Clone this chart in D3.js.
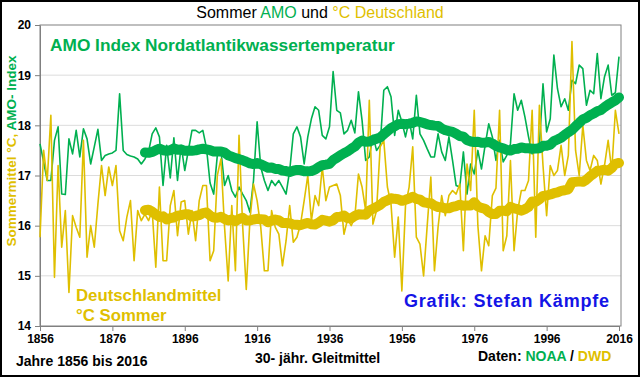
<!DOCTYPE html>
<html>
<head>
<meta charset="utf-8">
<script src="https://cdn.jsdelivr.net/npm/d3@7"></script>
<style>
  body { margin: 0; background: #fff; }
  svg { display: block; font-family: "Liberation Sans", Arial, sans-serif; }
</style>
</head>
<body>
<svg id="chart" width="640" height="377"></svg>
<script>
// Jahre 1856 - 2016, Sommerwerte
const firstYear = 1856;

// AMO Index (auf die °C-Achse skaliert)
const amo = [
  17.63, 17.27, 16.9, 16.9, 17.7, 17.97, 16.63, 16.62, 17.73, 17.43,
  17.9, 17.37, 17.93, 17.73, 17.23, 17.57, 17.92, 17.3, 17.4, 17.43,
  17.45, 17.5, 18.63, 17.5, 17.42, 17.39, 17.37, 17.33, 17.23, 17.33,
  17.47, 17.83, 17.95, 17.77, 16.8, 17.6, 16.95, 17.75, 16.9, 17.6,
  17.1, 17.5, 17.9, 17.9, 17.85, 17.9, 17.55, 16.85, 16.63, 17.4,
  17.5, 16.8, 17.0, 16.7, 16.57, 16.77, 16.63, 16.5, 16.27, 16.9,
  18.07, 17.17, 16.9, 16.7, 16.9, 16.8, 16.9, 16.77, 16.63, 17.1,
  17.83, 17.97, 17.77, 17.23, 17.77, 18.13, 18.37, 18.3, 17.8, 17.73,
  17.97, 19.07, 18.3, 18.25, 17.83, 17.9, 18.1, 17.85, 18.67, 18.1,
  17.3, 17.37, 17.8, 17.5, 17.6, 18.7, 18.77, 18.57, 17.8, 18.3,
  18.07, 17.77, 18.1, 17.73, 18.6, 17.83, 17.7, 17.53, 17.37, 17.37,
  17.83, 17.47, 17.3, 17.77, 17.3, 16.8, 16.77, 17.47, 16.63, 17.23,
  17.03, 17.5, 17.13, 17.6, 18.03, 17.77, 17.3, 17.7, 17.27, 17.4,
  17.63, 18.63, 18.3, 18.5, 18.17, 17.77, 17.43, 17.6, 17.6, 18.83,
  17.87, 18.13, 19.4, 18.73, 18.37, 18.53, 18.3, 18.9, 18.83, 19.2,
  19.13, 18.4, 18.7, 18.63, 19.43, 18.53, 18.97, 19.2, 18.6, 18.65, 19.37
];

// Deutschlandmittel Sommer (°C)
const dwd = [
  15.77, 17.5, 16.9, 18.2, 14.97, 17.2, 15.57, 16.3, 14.67, 16.2,
  15.97, 15.77, 17.7, 15.37, 16.0, 15.57, 16.43, 17.2, 16.6, 17.17,
  16.8, 17.2, 15.9, 15.7, 16.17, 16.5, 15.3, 16.3, 16.1, 16.23,
  16.1, 16.3, 15.17, 16.77, 15.3, 15.3, 16.4, 16.7, 15.8, 16.47,
  16.5, 15.83, 16.3, 15.7, 16.5, 16.8, 16.8, 15.3, 15.5, 17.0,
  17.33, 15.97, 14.9, 16.4, 15.1, 17.8, 16.0, 14.73, 16.1, 16.83,
  16.5, 15.97, 15.1, 15.1, 16.3, 15.97, 15.83, 15.2, 15.7, 16.4,
  15.67, 15.77, 16.03, 16.5, 17.0, 16.1, 16.6, 16.4, 17.17, 16.5,
  16.77, 16.8, 16.83, 16.6, 15.83, 16.13, 16.0, 16.17, 17.03, 16.77,
  16.3, 18.5, 16.03, 16.3, 17.57, 17.7, 16.77, 16.43, 15.37, 16.17,
  14.7, 16.4, 16.77, 17.57, 15.77, 15.63, 15.0, 16.0, 16.97, 15.1,
  15.97, 16.6, 16.2, 16.6, 16.7, 16.63, 16.83, 15.5, 17.23, 16.7,
  18.3, 16.0, 15.1, 15.8, 15.6, 16.6, 16.75, 18.3, 15.5, 15.8,
  17.3, 15.5, 16.3, 16.7, 16.7, 16.9, 18.3, 15.77, 18.4, 17.2,
  16.2, 17.2, 17.0, 17.1, 17.6, 17.0, 17.4, 19.67, 17.5, 17.0,
  18.0, 17.3, 17.1, 17.4, 17.3, 16.83, 17.2, 17.7, 17.1, 18.3, 17.83
];

const xTicks = [1856, 1876, 1896, 1916, 1936, 1956, 1976, 1996, 2016];
const yTicks = [14, 15, 16, 17, 18, 19, 20];
const maWindow = 30; // 30- jähr. Gleitmittel

const green = '#00b050';
const yellow = '#dfbf00';

const svg = d3.select('#chart');
const margin = { top: 25, right: 19, bottom: 51, left: 40 };
const width = 640, height = 377;
const innerW = width - margin.left - margin.right;
const innerH = height - margin.top - margin.bottom;

const years = d3.range(firstYear, firstYear + amo.length);

const x = d3.scaleLinear().domain([1856, 2016]).range([margin.left, margin.left + 579]);
const y = d3.scaleLinear().domain([14, 20]).range([margin.top + innerH, margin.top]);

// Rahmen außen
svg.append('rect')
  .attr('x', 1).attr('y', 1).attr('width', width - 2).attr('height', height - 2)
  .attr('fill', '#fff').attr('stroke', '#000').attr('stroke-width', 2);

// Gitterlinien
svg.append('g')
  .selectAll('line')
  .data(yTicks.slice(1, -1))
  .join('line')
  .attr('x1', margin.left).attr('x2', margin.left + innerW)
  .attr('y1', d => y(d)).attr('y2', d => y(d))
  .attr('stroke', '#dcdcdc').attr('stroke-width', 1);

// Plotrahmen
svg.append('rect')
  .attr('x', margin.left).attr('y', margin.top)
  .attr('width', innerW).attr('height', innerH)
  .attr('fill', 'none').attr('stroke', '#808080').attr('stroke-width', 1);

// Achsen
const yAxis = svg.append('g')
  .attr('transform', `translate(${margin.left},0)`)
  .call(d3.axisLeft(y).tickValues(yTicks).tickFormat(d3.format('d'))
    .tickSize(5).tickPadding(4).tickSizeOuter(0));
const xAxis = svg.append('g')
  .attr('transform', `translate(0,${margin.top + innerH})`)
  .call(d3.axisBottom(x).tickValues(xTicks).tickFormat(d3.format('d'))
    .tickSize(5).tickPadding(3).tickSizeOuter(0));

[yAxis, xAxis].forEach(g => {
  g.select('.domain').attr('stroke', '#808080');
  g.selectAll('.tick line').attr('stroke', '#808080');
  g.selectAll('.tick text')
    .attr('fill', '#000')
    .style('font-size', '12px')
    .style('font-weight', 'bold')
    .style('font-family', '"Liberation Sans", Arial, sans-serif');
});

// Linien
const line = d3.line()
  .defined(d => d[1] != null)
  .x(d => x(d[0]))
  .y(d => y(d[1]));

const movingAvg = vals => vals.map((v, i) =>
  i < maWindow - 1 ? null : d3.mean(vals.slice(i - maWindow + 1, i + 1)));

const series = [
  { vals: amo, color: green },
  { vals: dwd, color: yellow }
];

series.forEach(s => {
  svg.append('path')
    .datum(years.map((yr, i) => [yr, s.vals[i]]))
    .attr('d', line)
    .attr('fill', 'none')
    .attr('stroke', s.color)
    .attr('stroke-width', 1.6)
    .attr('stroke-linejoin', 'round');
});

series.forEach(s => {
  const ma = movingAvg(s.vals);
  svg.append('path')
    .datum(years.map((yr, i) => [yr, ma[i]]))
    .attr('d', line)
    .attr('fill', 'none')
    .attr('stroke', s.color)
    .attr('stroke-width', 10)
    .attr('stroke-linejoin', 'round')
    .attr('stroke-linecap', 'round');
});

// Titel
const title = svg.append('text')
  .attr('x', 320).attr('y', 18)
  .attr('text-anchor', 'middle')
  .style('font-size', '16px');
title.append('tspan').text('Sommer ').attr('fill', '#000');
title.append('tspan').text('AMO').attr('fill', green);
title.append('tspan').text(' und ').attr('fill', '#000');
title.append('tspan').text('°C Deutschland').attr('fill', yellow);

// y-Achsentitel
const ylab = svg.append('text')
  .attr('transform', 'translate(16,151) rotate(-90)')
  .attr('text-anchor', 'middle')
  .style('font-size', '13.5px')
  .style('font-weight', 'bold');
ylab.append('tspan').text('Sommermittel °C, ').attr('fill', yellow);
ylab.append('tspan').text('AMO- Index').attr('fill', green);

// Beschriftungen im Diagramm
const label = (txt, xx, yy, color, size, spacing = 0) => svg.append('text')
  .attr('x', xx).attr('y', yy)
  .attr('fill', color)
  .style('font-size', size + 'px')
  .style('font-weight', 'bold')
  .style('letter-spacing', spacing + 'px')
  .text(txt);

label('AMO Index Nordatlantikwassertemperatur', 50, 51, green, 17.3);
label('Deutschlandmittel', 76, 301, yellow, 16.8);
label('°C Sommer', 76, 321, yellow, 16.8);
label('Grafik: Stefan Kämpfe', 404, 307, '#1414e6', 18, 0.8);

// Fußzeile
label('Jahre 1856 bis 2016', 16, 366, '#000', 14);
label('30- jähr. Gleitmittel', 255, 363, '#000', 14);
const src = svg.append('text')
  .attr('x', 478).attr('y', 361)
  .style('font-size', '14px')
  .style('font-weight', 'bold');
src.append('tspan').text('Daten: ').attr('fill', '#000');
src.append('tspan').text('NOAA').attr('fill', green);
src.append('tspan').text(' / ').attr('fill', '#000');
src.append('tspan').text('DWD').attr('fill', yellow);
</script>
</body>
</html>
